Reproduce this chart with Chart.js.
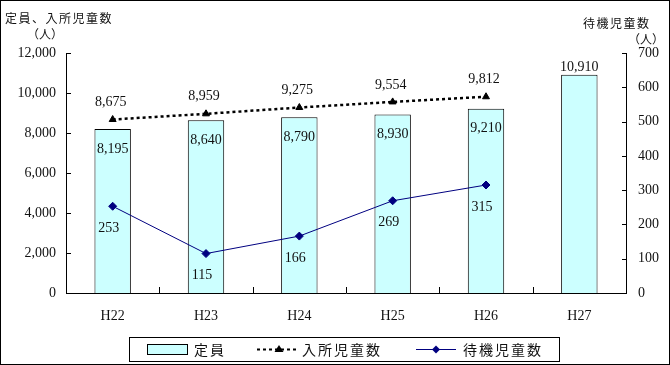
<!DOCTYPE html>
<html>
<head>
<meta charset="utf-8">
<script src="https://cdn.jsdelivr.net/npm/chart.js@4/dist/chart.umd.min.js"></script>
<style>
  body { margin: 0; background: #fff; }
  canvas { display: block; }
</style>
</head>
<body>
<canvas id="grafico" width="670" height="365"></canvas>
<script>
// datos
const categorias = ['H22', 'H23', 'H24', 'H25', 'H26', 'H27'];
const teiin = [8195, 8640, 8790, 8930, 9210, 10910];          // 定員
const nyusho = [8675, 8959, 9275, 9554, 9812, null];          // 入所児童数
const taiki = [253, 115, 166, 269, 315, null];                // 待機児童数
const ejeIzqMax = 12000, ejeIzqPaso = 2000;
const ejeDerMax = 700, ejeDerPaso = 100;

const fuenteNum = '"Liberation Serif", "DejaVu Serif", serif';
const fuenteJp = '"Noto Sans CJK JP", "Noto Sans", sans-serif';

// ejes, marcas hacia dentro, etiquetas, títulos, leyenda y marco
const extras = {
    id: 'extras',
    afterDatasetsDraw(chart) {
        const ctx = chart.ctx;
        const a = chart.chartArea;
        const x = chart.scales.x, y = chart.scales.y, y1 = chart.scales.y1;

        ctx.save();
        ctx.strokeStyle = '#000';
        ctx.lineWidth = 1;
        ctx.beginPath();
        // líneas de ejes
        ctx.moveTo(Math.round(a.left) + 0.5, a.top);
        ctx.lineTo(Math.round(a.left) + 0.5, Math.round(a.bottom) + 0.5);
        ctx.lineTo(Math.round(a.right) + 0.5, Math.round(a.bottom) + 0.5);
        ctx.lineTo(Math.round(a.right) + 0.5, a.top);
        // marcas eje izquierdo
        y.ticks.forEach(t => {
            const py = Math.round(y.getPixelForValue(t.value)) + 0.5;
            ctx.moveTo(a.left, py); ctx.lineTo(a.left + 5, py);
        });
        y1.ticks.forEach(t => {
            const py = Math.round(y1.getPixelForValue(t.value)) + 0.5;
            ctx.moveTo(a.right - 4, py); ctx.lineTo(a.right + 1, py);
        });
        // marcas entre categorías
        for (let i = 1; i < categorias.length; i++) {
            const px = Math.round((x.getPixelForValue(i - 1) + x.getPixelForValue(i)) / 2) + 0.5;
            ctx.moveTo(px, a.bottom); ctx.lineTo(px, a.bottom - 6);
        }
        ctx.stroke();

        // etiquetas de datos
        ctx.fillStyle = '#111';
        ctx.font = '14px ' + fuenteNum;
        ctx.textAlign = 'center';
        ctx.textBaseline = 'middle';
        chart.getDatasetMeta(0).data.forEach((el, i) => {
            const txt = teiin[i].toLocaleString('en-US');
            if (i === categorias.length - 1) ctx.fillText(txt, el.x, el.y - 7);
            else ctx.fillText(txt, el.x, el.y + 20);
        });
        chart.getDatasetMeta(1).data.forEach((el, i) => {
            if (nyusho[i] == null) return;
            ctx.fillText(nyusho[i].toLocaleString('en-US'), el.x - 2, el.y - 17);
        });
        chart.getDatasetMeta(2).data.forEach((el, i) => {
            if (taiki[i] == null) return;
            ctx.fillText(String(taiki[i]), el.x - 4, el.y + 22);
        });

        // títulos de ejes
        ctx.font = '12px ' + fuenteJp;
        ctx.letterSpacing = '1.5px';
        ctx.textAlign = 'left';
        ctx.fillText('定員、入所児童数', 5, 18);
        ctx.fillText('待機児童数', 583, 23);
        ctx.letterSpacing = '0px';
        ctx.textAlign = 'center';
        ctx.fillText('（人）', 45, 34);
        ctx.fillText('（人）', 646, 39);

        // leyenda
        ctx.strokeRect(129.5, 337.5, 430, 24);
        ctx.fillStyle = '#CCFFFF';
        ctx.fillRect(147, 344, 40, 10);
        ctx.strokeRect(147.5, 344.5, 40, 10);

        ctx.strokeStyle = '#000';
        ctx.lineWidth = 2;
        ctx.setLineDash([3, 3]);
        ctx.beginPath(); ctx.moveTo(257, 349.5); ctx.lineTo(296, 349.5); ctx.stroke();
        ctx.setLineDash([]);
        ctx.fillStyle = '#000';
        ctx.beginPath(); ctx.moveTo(279, 345); ctx.lineTo(283.5, 352); ctx.lineTo(274.5, 352); ctx.closePath(); ctx.fill();

        ctx.strokeStyle = '#000080';
        ctx.lineWidth = 1;
        ctx.beginPath(); ctx.moveTo(416, 349.5); ctx.lineTo(456, 349.5); ctx.stroke();
        ctx.fillStyle = '#000080';
        ctx.beginPath(); ctx.moveTo(436, 345.5); ctx.lineTo(440, 349.5); ctx.lineTo(436, 353.5); ctx.lineTo(432, 349.5); ctx.closePath(); ctx.fill();

        ctx.fillStyle = '#111';
        ctx.font = '14px ' + fuenteJp;
        ctx.letterSpacing = '2px';
        ctx.textAlign = 'left';
        ctx.fillText('定員', 194, 350);
        ctx.fillText('入所児童数', 302, 350);
        ctx.fillText('待機児童数', 463, 350);
        ctx.letterSpacing = '0px';

        // marco exterior
        ctx.strokeStyle = '#000';
        ctx.strokeRect(0.5, 0.5, 669, 364);
        ctx.restore();
    }
};

new Chart(document.getElementById('grafico'), {
    data: {
        labels: categorias,
        datasets: [
            {
                type: 'bar',
                label: '定員',
                data: teiin,
                yAxisID: 'y',
                backgroundColor: '#CCFFFF',
                borderColor: '#000',
                borderWidth: 1,
                barPercentage: 0.39,
                categoryPercentage: 1,
                order: 3
            },
            {
                type: 'line',
                label: '入所児童数',
                data: nyusho,
                yAxisID: 'y',
                borderColor: '#000',
                borderWidth: 2.5,
                borderDash: [3, 3],
                pointStyle: 'triangle',
                pointRadius: 4,
                pointBackgroundColor: '#000',
                pointBorderColor: '#000',
                pointBorderWidth: 1,
                tension: 0,
                order: 2
            },
            {
                type: 'line',
                label: '待機児童数',
                data: taiki,
                yAxisID: 'y1',
                borderColor: '#000080',
                borderWidth: 1,
                pointStyle: 'rectRot',
                pointRadius: 4,
                pointBackgroundColor: '#000080',
                pointBorderColor: '#000080',
                tension: 0,
                order: 1
            }
        ]
    },
    options: {
        responsive: false,
        animation: false,
        layout: { padding: { top: 53, left: 0, right: 0, bottom: 0 } },
        plugins: {
            legend: { display: false },
            tooltip: { enabled: false }
        },
        scales: {
            x: {
                offset: true,
                grid: { display: false, drawTicks: false },
                border: { display: false },
                ticks: { color: '#111', padding: 15, font: { family: fuenteNum, size: 14 } },
                afterFit: s => { s.height = 72; }
            },
            y: {
                position: 'left',
                min: 0,
                max: ejeIzqMax,
                grid: { display: false, drawTicks: false },
                border: { display: false },
                ticks: {
                    stepSize: ejeIzqPaso,
                    color: '#111',
                    padding: 10,
                    font: { family: fuenteNum, size: 14 },
                    callback: v => v.toLocaleString('en-US')
                },
                afterFit: s => { s.width = 66; }
            },
            y1: {
                position: 'right',
                min: 0,
                max: ejeDerMax,
                grid: { display: false, drawTicks: false },
                border: { display: false },
                ticks: {
                    stepSize: ejeDerPaso,
                    color: '#111',
                    padding: 12,
                    font: { family: fuenteNum, size: 14 }
                },
                afterFit: s => { s.width = 44; }
            }
        }
    },
    plugins: [extras]
});
</script>
</body>
</html>
